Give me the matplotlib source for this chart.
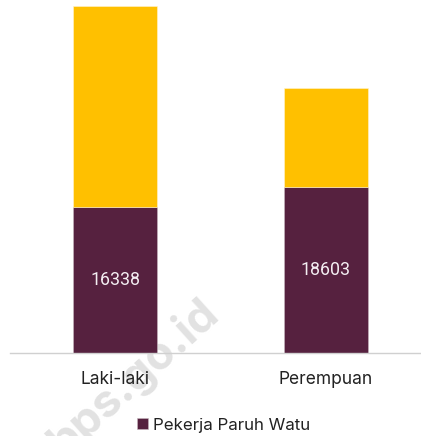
import matplotlib.pyplot as plt

# Data
categories = ["Laki-laki", "Perempuan"]
paruh_waktu = [16338, 18603]
lainnya = [22500, 11090]
series_label = "Pekerja Paruh Watu"

maroon = "#56213F"
yellow = "#FFC000"

plt.rcParams['font.family'] = ['Inter', 'DejaVu Sans']

fig = plt.figure(figsize=(4.21, 4.36), dpi=100)
H = 436.0
base_px = 353.0
px_per_unit = 1 / 112.0
ymax = 39000
top_px = base_px - ymax * px_per_unit

# Watermark, drawn beneath everything else
fig.text(133 / 421, (H - 378) / H, "bps.go.id", rotation=42, fontsize=33, fontweight="bold",
         color="#e2e2e2", ha="center", va="center", zorder=-5)

ax = fig.add_axes([10 / 421, (H - base_px) / H, 411 / 421, (base_px - top_px) / H])
ax.patch.set_alpha(0)

x = range(len(categories))
b1 = ax.bar(x, paruh_waktu, width=0.4, color=maroon, label=series_label,
            edgecolor="#c8b8c0", linewidth=0.4)
ax.bar(x, lainnya, width=0.4, bottom=paruh_waktu, color=yellow,
       edgecolor="#fff3d0", linewidth=0.4)

for xi, v in zip(x, paruh_waktu):
    ax.text(xi, v / 2, str(v), ha="center", va="center", color="#f4eef2", fontsize=12.8,
            family=["Roboto", "DejaVu Sans"])

ax.set_xlim(-0.5, 1.452)
ax.set_ylim(0, ymax)
ax.set_xticks(list(x))
ax.set_xticklabels(categories, fontsize=12.5, color="#222222")
ax.tick_params(axis="x", length=0, pad=13)
ax.set_yticks([])
for s in ["top", "right", "left"]:
    ax.spines[s].set_visible(False)
ax.spines["bottom"].set_color("#d0d0d0")
ax.spines["bottom"].set_linewidth(1.0)

fig.legend(handles=[b1], labels=[series_label], loc="center",
           bbox_to_anchor=(224 / 421, (H - 425) / H), frameon=False, fontsize=12.2,
           handlelength=0.65, handleheight=0.65, handletextpad=0.3, labelcolor="#222222")

fig.savefig("out.png", dpi=100)
